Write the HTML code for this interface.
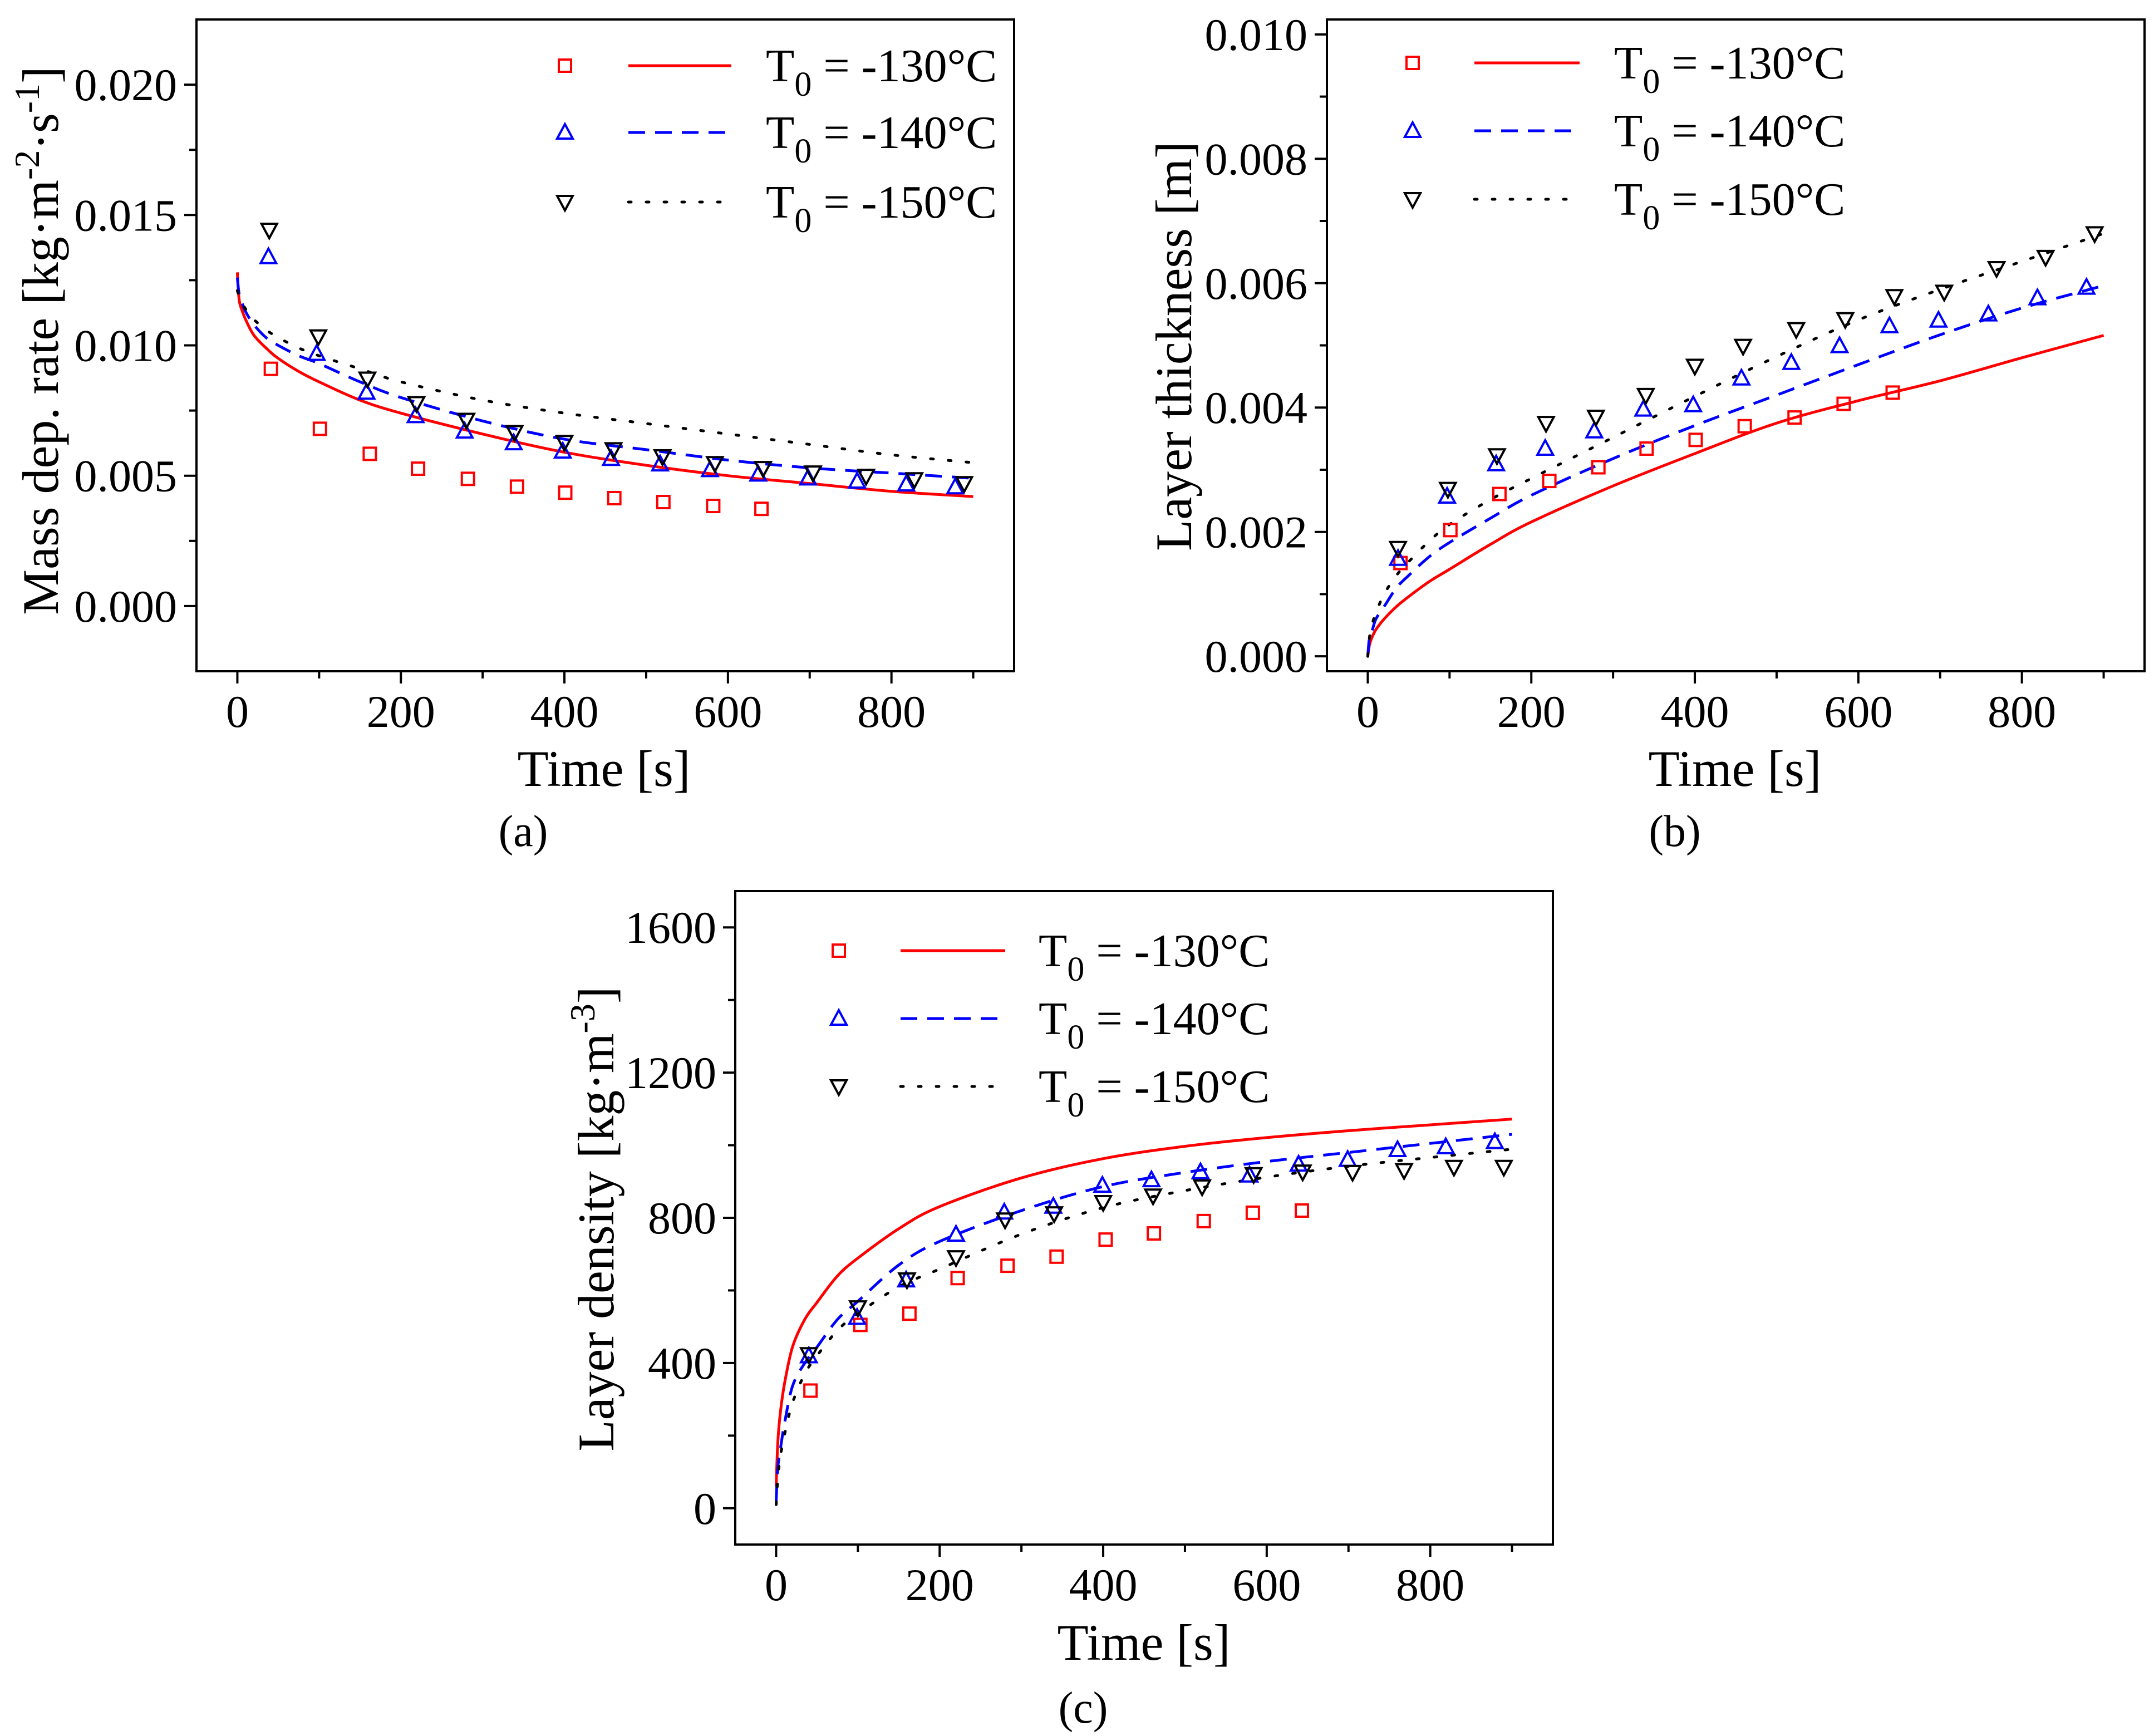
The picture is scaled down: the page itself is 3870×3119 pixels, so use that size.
<!DOCTYPE html>
<html><head><meta charset="utf-8"><style>
html,body{margin:0;padding:0;background:#fff}
svg{display:block}
text{font-family:"Liberation Serif",serif;fill:#000}
</style></head><body>
<svg id="fig" xmlns="http://www.w3.org/2000/svg" width="3870" height="3119" viewBox="0 0 3870 3119"></svg>
<script>
// ---------- Data ----------
const xTicks=[0,200,400,600,800];
const lineT=[0,2,5,10,20,35,50,75,100,150,200,300,400,500,600,700,800,900];
// Panel a: mass deposition rate
const aYTicks=[0.000,0.005,0.010,0.015,0.020];
const aYTickLabels=["0.000","0.005","0.010","0.015","0.020"];
const aRedLine=[0.0128,0.0118,0.0114,0.0110,0.0104,0.0099,0.0095,0.0090,0.0086,0.0079,0.0074,0.0066,0.0059,0.0054,0.0050,0.0047,0.0044,0.0042];
const aBlueLine=[0.0126,0.0120,0.0117,0.0113,0.0108,0.0103,0.0100,0.0096,0.0093,0.0086,0.0080,0.0071,0.0064,0.0060,0.0056,0.0053,0.0051,0.0049];
const aBlackLine=[0.0121,0.0119,0.0117,0.0114,0.0110,0.0106,0.0103,0.0099,0.0096,0.0091,0.0086,0.0079,0.0074,0.0070,0.0066,0.0062,0.0058,0.0055];
const aRedT=[41,101,162,221,282,342,401,461,521,582,641];
const aRedV=[0.00910,0.0068,0.00584,0.00527,0.00488,0.00458,0.00435,0.00414,0.00399,0.00384,0.00373];
const aBlueT=[38,97,158,218,278,338,398,457,517,578,637,698,758,818,878];
const aBlueV=[0.01339,0.00968,0.00819,0.00729,0.00670,0.00625,0.00593,0.00565,0.00544,0.00522,0.00505,0.00490,0.00478,0.00467,0.00456];
const aBlackT=[39,99,159,219,280,339,400,460,520,584,643,704,769,828,889];
const aBlackV=[0.01443,0.01034,0.00872,0.00778,0.00714,0.00667,0.00629,0.00601,0.00574,0.00548,0.00529,0.00512,0.00499,0.00486,0.00471];
// Panel b: layer thickness
const bYTicks=[0,0.002,0.004,0.006,0.008,0.010];
const bYTickLabels=["0.000","0.002","0.004","0.006","0.008","0.010"];
const bRedLine=[0,0.00018,0.00030,0.00043,0.00060,0.00080,0.00096,0.00120,0.00140,0.00180,0.00216,0.00274,0.00326,0.00375,0.00411,0.00443,0.00480,0.00516];
const bBlueLine=[0,0.0003,0.0004,0.0006,0.0008,0.00110,0.00130,0.0016,0.00183,0.00222,0.00259,0.00318,0.00371,0.00420,0.00469,0.00517,0.00560,0.00596];
const bBlackLine=[0,0.0003,0.0005,0.0007,0.0010,0.0013,0.00152,0.00185,0.00212,0.00252,0.00286,0.00352,0.00418,0.00482,0.00541,0.00590,0.00635,0.00680];
const bRedT=[40,101,161,222,282,341,401,461,522,582,642];
const bRedV=[0.00150,0.00203,0.00261,0.00282,0.00304,0.00334,0.00348,0.00370,0.00384,0.00406,0.00424];
const bBlueT=[37,97,157,217,277,337,398,457,518,577,638,698,759,819,879];
const bBlueV=[0.00157,0.00257,0.00309,0.00334,0.00362,0.00397,0.00404,0.00447,0.00472,0.00499,0.00531,0.00540,0.00550,0.00576,0.00593];
const bBlackT=[37,98,158,218,279,340,400,459,524,584,644,705,769,829,889];
const bBlackV=[0.00174,0.00269,0.00323,0.00375,0.00385,0.00420,0.00467,0.00499,0.00526,0.00542,0.00579,0.00586,0.00624,0.00642,0.00680];
// Panel c: layer density
const cYTicks=[0,400,800,1200,1600];
const cYTickLabels=["0","400","800","1200","1600"];
const cRedLine=[60,180,260,340,444,520,567,640,689,770,831,910,963,997,1021,1040,1056,1072];
const cBlueLine=[20,110,160,230,336,400,444,520,570,670,735,820,886,925,955,980,1005,1030];
const cBlackLine=[10,80,140,200,290,370,420,490,536,610,659,755,828,875,912,942,966,989];
const cRedT=[42,103,163,222,283,343,403,462,523,583,643];
const cRedV=[324,505,536,634,668,693,740,757,791,814,820];
const cBlueT=[40,99,159,220,279,339,399,459,519,579,639,699,760,819,879];
const cBlueV=[419,525,628,754,815,831,889,904,926,917,947,960,987,995,1009];
const cBlackT=[40,100,160,220,280,340,400,461,521,584,644,705,768,829,890];
const cBlackV=[424,553,630,691,795,812,843,861,886,920,927,926,931,940,940];
const legendLabels=["-130","-140","-150"];

// ---------- Drawing ----------
const NS="http://www.w3.org/2000/svg";
const svg=document.getElementById('fig');
function mk(tag,attrs,parent){const e=document.createElementNS(NS,tag);for(const k in attrs)e.setAttribute(k,attrs[k]);(parent||svg).appendChild(e);return e;}
const COLORS=["#ff0000","#0000ff","#000000"];
const DASH=["none","30 18","5 27"];

function smoothPath(pts){
  let d='M'+pts[0][0].toFixed(1)+','+pts[0][1].toFixed(1);
  for(let i=0;i<pts.length-1;i++){
    const p0=pts[Math.max(0,i-1)],p1=pts[i],p2=pts[i+1],p3=pts[Math.min(pts.length-1,i+2)];
    const c1x=p1[0]+(p2[0]-p0[0])/6,c1y=p1[1]+(p2[1]-p0[1])/6;
    const c2x=p2[0]-(p3[0]-p1[0])/6,c2y=p2[1]-(p3[1]-p1[1])/6;
    d+=` C${c1x.toFixed(1)},${c1y.toFixed(1)} ${c2x.toFixed(1)},${c2y.toFixed(1)} ${p2[0].toFixed(1)},${p2[1].toFixed(1)}`;
  }
  return d;
}

function panel(cfg){
  const g=mk('g',{});
  
  
  const L=cfg.L,R=cfg.R,T=cfg.T,B=cfg.B;
  const sx=v=>L+(v-(-50))/1000*(R-L);
  const sy=v=>B-(v-cfg.ymin)/(cfg.ymax-cfg.ymin)*(B-T);
  const cid='clip'+cfg.id;
  const cp=mk('clipPath',{id:cid},g);mk('rect',{x:L,y:T,width:R-L,height:B-T},cp);
  cfg.lines.forEach((arr,i)=>{
    const pts=lineT.map((t,j)=>[sx(t),sy(arr[j])]);
    const pl=mk('path',{d:smoothPath(pts),fill:'none',stroke:COLORS[i],'stroke-width':5,'stroke-dasharray':DASH[i],'stroke-linecap':i==2?'round':'butt','clip-path':'url(#'+cid+')'},g);
    
    
  });
  cfg.marks.forEach((m,i)=>{
    m[0].forEach((t,j)=>{
      const el=marker(i,sx(t),sy(m[1][j]),g);
      
      
    });
  });
  const fr=mk('rect',{x:L,y:T,width:R-L,height:B-T,fill:'none',stroke:'#000','stroke-width':4},g);
  
  
  for(let t=0;t<=900;t+=100){
    const major=t%200===0;
    mk('line',{x1:sx(t),x2:sx(t),y1:B,y2:B+(major?22:13),stroke:'#000','stroke-width':4},g);
  }
  xTicks.forEach(t=>{
    const tx=mk('text',{x:sx(t),y:B+100,'font-size':82,'text-anchor':'middle'},g);
    tx.textContent=String(t);
    
    
  });
  const step=cfg.yTicks[1]-cfg.yTicks[0];
  cfg.yTicks.forEach((v,k)=>{
    mk('line',{x1:L,x2:L-22,y1:sy(v),y2:sy(v),stroke:'#000','stroke-width':4},g);
    const mv=v+step/2;
    if(sy(mv)>T) mk('line',{x1:L,x2:L-13,y1:sy(mv),y2:sy(mv),stroke:'#000','stroke-width':4},g);
    const tx=mk('text',{x:cfg.yLabX,y:sy(v)+28,'font-size':82,'text-anchor':'end'},g);
    tx.textContent=cfg.yTickLabels[k];
    
    
  });
  const mvb=cfg.yTicks[0]-step/2; if(sy(mvb)<B) mk('line',{x1:L,x2:L-13,y1:sy(mvb),y2:sy(mvb),stroke:'#000','stroke-width':4},g);
  const xt=mk('text',{x:cfg.xTitleX,y:cfg.xTitleY,'font-size':92,'text-anchor':'middle'},g);
  xt.textContent='Time [s]';
  
  
  const yt=mk('text',{transform:`translate(${cfg.yTitleX},${cfg.yTitleY}) rotate(-90)`,'font-size':92,'text-anchor':'middle'},g);
  yt.innerHTML=cfg.yTitle;
  
  
  cfg.legRows.forEach((ry,i)=>{
    const lg=mk('g',{},g);
    
    
    marker(i,cfg.legMX,ry,lg);
    mk('line',{x1:cfg.legL1,x2:cfg.legL2,y1:ry,y2:ry,stroke:COLORS[i],'stroke-width':5,'stroke-dasharray':DASH[i],'stroke-linecap':i==2?'round':'butt'},lg);
    const tx=mk('text',{x:cfg.legTX,y:ry+28,'font-size':84},lg);
    tx.innerHTML='T<tspan dy="26" font-size="62">0</tspan><tspan dy="-26"> = '+legendLabels[i]+'°C</tspan>';
  });
  const cap=mk('text',{x:cfg.capX,y:cfg.capY,'font-size':80,'text-anchor':'middle'},g);
  cap.textContent=cfg.cap;
  
  
}
function marker(i,x,y,parent){
  if(i===0) return mk('rect',{x:x-11,y:y-11,width:22,height:22,fill:'none',stroke:'#ff0000','stroke-width':4},parent);
  if(i===1) return mk('polygon',{points:`${x},${y-15} ${x-14},${y+11} ${x+14},${y+11}`,fill:'none',stroke:'#0000ff','stroke-width':4},parent);
  return mk('polygon',{points:`${x},${y+15} ${x-14},${y-11} ${x+14},${y-11}`,fill:'none',stroke:'#000','stroke-width':4},parent);
}

panel({id:'a',name:'panel-a-mass-dep-rate',L:353,R:1822,T:35,B:1206,ymin:-0.0025,ymax:0.0225,
  yTicks:aYTicks,yTickLabels:aYTickLabels,yLabX:318,
  lines:[aRedLine,aBlueLine,aBlackLine],marks:[[aRedT,aRedV],[aBlueT,aBlueV],[aBlackT,aBlackV]],
  xTitleX:1085,xTitleY:1412,yTitleX:104,yTitleY:612,
  yTitle:'Mass dep. rate [kg·m<tspan dy="-34" font-size="64">-2</tspan><tspan dy="34">·s</tspan><tspan dy="-34" font-size="64">-1</tspan><tspan dy="34">]</tspan>',
  legRows:[118,238,363],legMX:1015,legL1:1129,legL2:1314,legTX:1376,capX:940,capY:1520,cap:'(a)'});
panel({id:'b',name:'panel-b-layer-thickness',L:2384,R:3853,T:35,B:1206,ymin:-0.00024,ymax:0.01024,
  yTicks:bYTicks,yTickLabels:bYTickLabels,yLabX:2349,
  lines:[bRedLine,bBlueLine,bBlackLine],marks:[[bRedT,bRedV],[bBlueT,bBlueV],[bBlackT,bBlackV]],
  xTitleX:3117,xTitleY:1412,yTitleX:2140,yTitleY:622,yTitle:'Layer thickness [m]',
  legRows:[113,235,358],legMX:2538,legL1:2649,legL2:2838,legTX:2900,capX:3009,capY:1520,cap:'(b)'});
panel({id:'c',name:'panel-c-layer-density',L:1321,R:2790,T:1601,B:2775,ymin:-100,ymax:1700,
  yTicks:cYTicks,yTickLabels:cYTickLabels,yLabX:1287,
  lines:[cRedLine,cBlueLine,cBlackLine],marks:[[cRedT,cRedV],[cBlueT,cBlueV],[cBlackT,cBlackV]],
  xTitleX:2055,xTitleY:2982,yTitleX:1102,yTitleY:2190,
  yTitle:'Layer density [kg·m<tspan dy="-34" font-size="64">-3</tspan><tspan dy="34">]</tspan>',
  legRows:[1708,1830,1952],legMX:1507,legL1:1618,legL2:1806,legTX:1866,capX:1946,capY:3095,cap:'(c)'});
</script>
</body></html>
